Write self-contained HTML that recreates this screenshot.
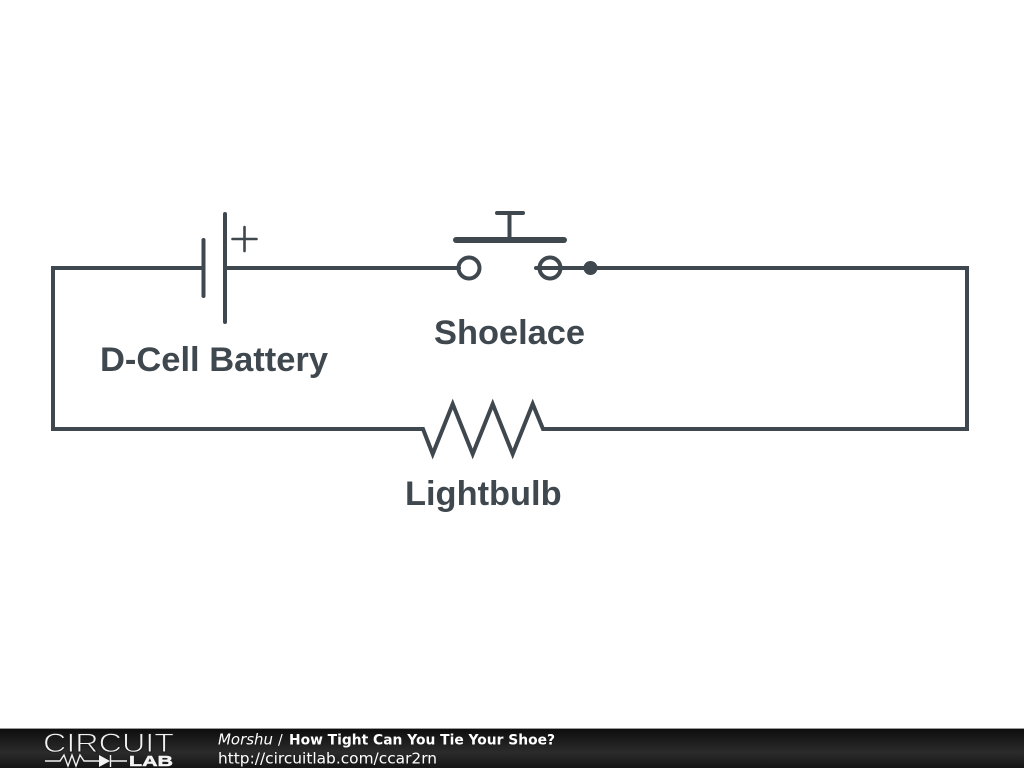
<!DOCTYPE html>
<html>
<head>
<meta charset="utf-8">
<style>
html,body{margin:0;padding:0;background:#fff;width:1024px;height:768px;overflow:hidden}
svg{display:block}
</style>
</head>
<body>
<svg width="1024" height="768" viewBox="0 0 1024 768" xmlns="http://www.w3.org/2000/svg">
<defs>
<linearGradient id="bar" x1="0" y1="0" x2="0" y2="1">
<stop offset="0" stop-color="#0d0d0d"/>
<stop offset="0.6" stop-color="#2b2b2b"/>
<stop offset="1" stop-color="#151515"/>
</linearGradient>
</defs>
<rect width="1024" height="768" fill="#fff"/>
<g fill="none" stroke="#3f484e" stroke-width="4" stroke-linecap="round" stroke-linejoin="round">
<path d="M203 268H53V429H423L432.700 454L452.700 404L472.700 454L492.700 404L512.700 454L532.700 404L543 429H967V268H590" stroke-linejoin="miter"/>
<path d="M225 268H459"/>
<path d="M203.500 240V296"/>
<path d="M225 214V322"/>
<path d="M232.500 239H256.500M244.500 227V251" stroke-width="2.600"/>
<circle cx="469" cy="268" r="10.500"/>
<circle cx="550" cy="268" r="10.500"/>
<path d="M536 268H590"/>
<path d="M456 240H564" stroke-width="6"/>
<path d="M509.500 240V213M497 213H523"/>
</g>
<circle cx="590.500" cy="268" r="7" fill="#3f484e"/>
<g font-family="'Liberation Sans',sans-serif" font-weight="bold" font-size="34.400" fill="#3f484e">
<text x="100" y="371" textLength="228" lengthAdjust="spacingAndGlyphs">D-Cell Battery</text>
<text x="434" y="344">Shoelace</text>
<text x="405" y="505">Lightbulb</text>
</g>
<rect x="0" y="729" width="1024" height="39" fill="url(#bar)"/>
<rect x="0" y="728" width="1024" height="1" fill="#9a9a9a"/>
<text x="43" y="752" font-family="'Liberation Sans',sans-serif" font-size="27" fill="#f2f2f2" stroke="#1c1c1c" stroke-width="0.900" textLength="131" lengthAdjust="spacingAndGlyphs">CIRCUIT</text>
<g fill="none" stroke="#f0f0f0" stroke-width="1.400">
<path d="M45 761H60L64 755L68 766L72 755L76 766L80 755L84 761H100M111 761H127M110.500 755V767" />
</g>
<path d="M99 755L110 761L99 767Z" fill="#f4f4f4"/>
<text x="129" y="766" font-family="'Liberation Sans',sans-serif" font-weight="bold" font-size="15" fill="#f4f4f4" stroke="#f4f4f4" stroke-width="0.500" textLength="44" lengthAdjust="spacingAndGlyphs">LAB</text>
<text x="218" y="744.500" font-family="'DejaVu Sans',sans-serif" font-size="15" font-style="italic" fill="#fff" textLength="55" lengthAdjust="spacingAndGlyphs">Morshu</text>
<text x="278" y="744.500" font-family="'DejaVu Sans',sans-serif" font-size="14" fill="#fff">/</text>
<text x="289" y="744.500" font-family="'DejaVu Sans',sans-serif" font-size="14" font-weight="bold" fill="#fff" textLength="266" lengthAdjust="spacingAndGlyphs">How Tight Can You Tie Your Shoe?</text>
<text x="218" y="763.500" font-family="'DejaVu Sans',sans-serif" font-size="15.300" fill="#fff" textLength="219" lengthAdjust="spacingAndGlyphs">http://circuitlab.com/ccar2rn</text>
</svg>
</body>
</html>
